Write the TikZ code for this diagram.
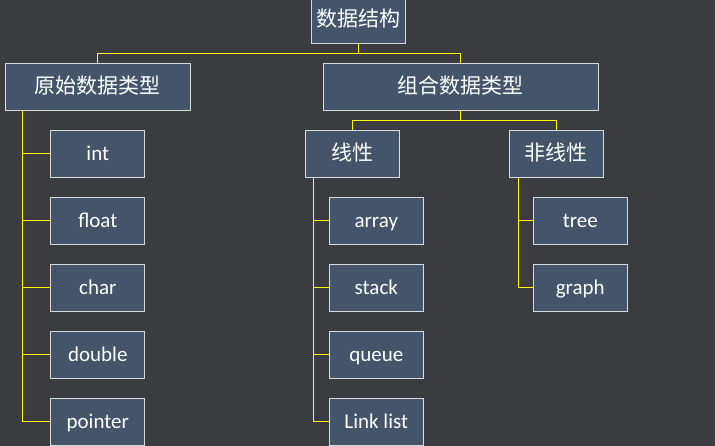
\documentclass[tikz,border=0pt]{standalone}
\usepackage{fontspec}
\setmainfont{Carlito}
\newfontfamily\cjk{Noto Sans CJK SC}
\usetikzlibrary{positioning}

\definecolor{bgcol}{HTML}{3B3C40}
\definecolor{boxcol}{HTML}{44546A}
\definecolor{edgecol}{HTML}{D9D9D9}
\definecolor{linkcol}{HTML}{FFFF00}

\tikzset{
  box/.style={
    rectangle,
    draw=edgecol,
    line width=1.2pt,
    fill=boxcol,
    text=white,
    inner sep=0pt,
    minimum width=94pt,
    minimum height=47pt,
    text height=15pt,
    text depth=1pt,
    font=\fontsize{21pt}{24pt}\selectfont},
  link/.style={draw=linkcol, line width=1pt}
}

\begin{document}
\begin{tikzpicture}[x=1pt, y=-1pt, node distance=18.8pt]
  \fill[bgcol] (0,0) rectangle (715,446);
  \useasboundingbox (0,0) rectangle (715,446);

  \node[box] (root) at (358.3,19.8) {\cjk 数据结构};

  \node[box, minimum width=185pt] (prim) at (97.8,86.8) {\cjk 原始数据类型};
  \node[box, minimum width=275pt] (comb) at (460.8,86.8) {\cjk 组合数据类型};

  % primitive types
  \node[box, below=of prim] (int) {int};
  \node[box, below=of int] (float) {float};
  \node[box, below=of float] (char) {char};
  \node[box, below=of char] (double) {double};
  \node[box, below=of double] (pointer) {pointer};

  \node[box] (lin) at (352.3,153.8) {\cjk 线性};
  \node[box] (nonlin) at (556.3,153.8) {\cjk 非线性};

  % linear
  \node[box, below=of lin, xshift=24pt] (array) {array};
  \node[box, below=of array] (stack) {stack};
  \node[box, below=of stack] (queue) {queue};
  \node[box, below=of queue] (linklist) {Link list};

  % non-linear
  \node[box, below=of nonlin, xshift=24pt] (tree) {tree};
  \node[box, below=of tree] (graph) {graph};

  \coordinate[below=10pt of root.south] (rootjoin);
  \coordinate[below=10pt of comb.south] (combjoin);
  \coordinate[right=18pt of prim.south west] (primtrunk);
  \coordinate[right=9pt of lin.south west] (lintrunk);
  \coordinate[right=9.4pt of nonlin.south west] (nonlintrunk);

  \draw[link] (root.south) -- (rootjoin) -| (prim.north);
  \draw[link] (rootjoin) -| (comb.north);
  \draw[link] (comb.south) -- (combjoin) -| (lin.north);
  \draw[link] (combjoin) -| (nonlin.north);

  \draw[link] (primtrunk) |- (pointer.west);
  \draw[link] (primtrunk) |- (int.west);
  \draw[link] (primtrunk) |- (float.west);
  \draw[link] (primtrunk) |- (char.west);
  \draw[link] (primtrunk) |- (double.west);

  \draw[link] (lintrunk) |- (linklist.west);
  \draw[link] (lintrunk) |- (array.west);
  \draw[link] (lintrunk) |- (stack.west);
  \draw[link] (lintrunk) |- (queue.west);

  \draw[link] (nonlintrunk) |- (graph.west);
  \draw[link] (nonlintrunk) |- (tree.west);
\end{tikzpicture}
\end{document}
